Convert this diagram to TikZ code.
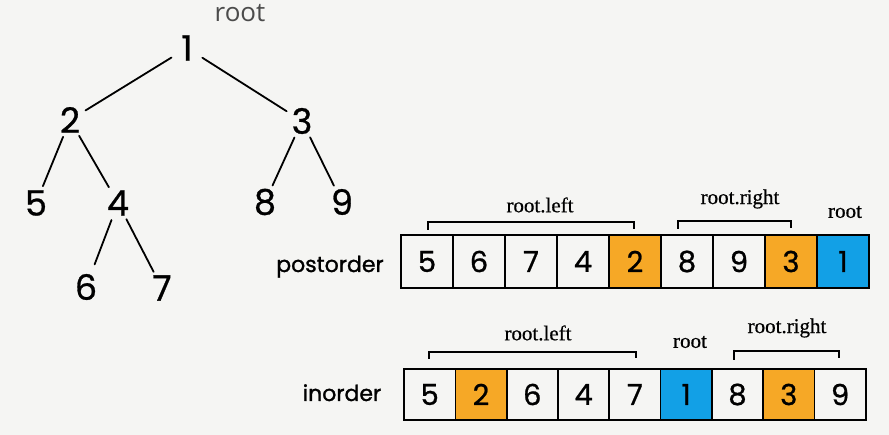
\documentclass[tikz,border=0pt]{standalone}
\usepackage{fontspec}
\newfontfamily\digfont[FakeBold=0.8]{Poppins}
\newfontfamily\rowfont[FakeBold=1.2]{Poppins}
\newfontfamily\labfont[FakeBold=0.6]{Liberation Serif}
\newfontfamily\rootfont{Open Sans}
\definecolor{bg}{RGB}{245,245,243}
\definecolor{org}{RGB}{246,168,38}
\definecolor{blu}{RGB}{18,160,230}
\definecolor{txtgray}{RGB}{75,75,75}
\begin{document}
\begin{tikzpicture}[x=1pt,y=-1pt,
  tn/.style={circle,inner sep=0pt,minimum size=36pt,font=\digfont\fontsize{35}{40}\selectfont},
  edge/.style={line width=1.8pt,line cap=round},
  cellp/.style={draw,line width=1.7pt,minimum width=52pt,minimum height=53pt,inner sep=0pt,font=\digfont\fontsize{29}{32}\selectfont},
  celli/.style={cellp,minimum width=51.3pt,minimum height=51pt},
  hl/.style={fill=org},
  hb/.style={fill=blu},
  brk/.style={line width=1.3pt},
  lab/.style={font=\labfont\fontsize{21}{24}\selectfont},
  rowlab/.style={font=\rowfont\fontsize{22}{25}\selectfont,anchor=base}
]
\fill[bg] (0,0) rectangle (889,435);
\useasboundingbox (0,0) rectangle (889,435);

% tree
\node[font=\rootfont\fontsize{26}{30}\selectfont,text=txtgray] (rt) at (240,13) {root};
\node[tn] (n1) at (187,48) {1};
\node[tn] (n2) at (70,120) {2};
\node[tn] (n3) at (302,121) {3};
\node[tn] (n5) at (36,203) {5};
\node[tn] (n4) at (118,203) {4};
\node[tn] (n8) at (265,202) {8};
\node[tn] (n9) at (342,202) {9};
\node[tn] (n6) at (86,287) {6};
\node[tn] (n7) at (162,288) {7};
\draw[edge] (n1) -- (n2);
\draw[edge] (n1) -- (n3);
\draw[edge] (n2) -- (n5);
\draw[edge] (n2) -- (n4);
\draw[edge] (n3) -- (n8);
\draw[edge] (n3) -- (n9);
\draw[edge,shorten >=6pt] (n4) -- (n6);
\draw[edge] (n4) -- (n7);

% postorder row
\node[rowlab] (plab) at (330,272) {postorder};
\node[cellp] (p1) at (427,261.5) {5};
\node[cellp] (p2) at (479,261.5) {6};
\node[cellp] (p3) at (531,261.5) {7};
\node[cellp] (p4) at (583,261.5) {4};
\node[cellp,hl] (p5) at (635,261.5) {2};
\node[cellp] (p6) at (687,261.5) {8};
\node[cellp] (p7) at (739,261.5) {9};
\node[cellp,hl] (p8) at (791,261.5) {3};
\node[cellp,hb] (p9) at (843,261.5) {1};
\draw[brk] (428,230) -- (428,222) -- (634,222) -- (634,229);
\draw[brk] (678,229) -- (678,221) -- (791,221) -- (791,228);
\node[lab] (pl) at (540,205) {root.left};
\node[lab] (pr) at (740,199) {root.right};
\node[lab] (pt) at (845,212) {root};

% inorder row
\node[rowlab] (ilab) at (342,401) {inorder};
\node[celli] (i1) at (429.7,394.5) {5};
\node[celli,hl] (i2) at (481,394.5) {2};
\node[celli] (i3) at (532.3,394.5) {6};
\node[celli] (i4) at (583.6,394.5) {4};
\node[celli] (i5) at (634.9,394.5) {7};
\node[celli,hb] (i6) at (686.2,394.5) {1};
\node[celli] (i7) at (737.5,394.5) {8};
\node[celli,hl] (i8) at (788.8,394.5) {3};
\node[celli] (i9) at (840.1,394.5) {9};
\draw[brk] (429,359) -- (429,352) -- (636,352) -- (636,358);
\draw[brk] (734,360) -- (734,351) -- (839,351) -- (839,358);
\node[lab] (il) at (538,333) {root.left};
\node[lab] (it) at (690,342) {root};
\node[lab] (ir) at (787,328) {root.right};
\end{tikzpicture}
\end{document}
